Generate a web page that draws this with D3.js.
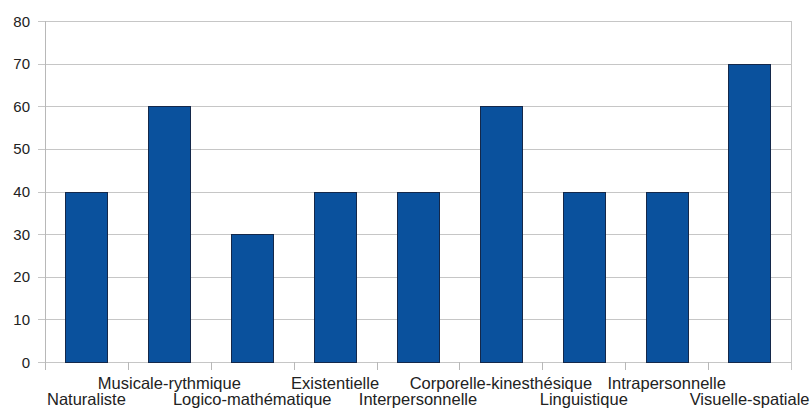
<!DOCTYPE html>
<html><head><meta charset="utf-8">
<script src="https://cdn.jsdelivr.net/npm/d3@7"></script>
<style>body{margin:0;background:#fff}svg{display:block}text{font-family:"Liberation Sans",Arial,sans-serif}</style>
</head><body><svg width="810" height="409"></svg>
<script>
const categories = ["Naturaliste","Musicale-rythmique","Logico-mathématique","Existentielle","Interpersonnelle","Corporelle-kinesthésique","Linguistique","Intrapersonnelle","Visuelle-spatiale"];
const values = [40,60,30,40,40,60,40,40,70];
const yTicks = [0,10,20,30,40,50,60,70,80];

const svg = d3.select("svg");
const mLeft = 45, mRight = 791, mTop = 21, mBottom = 362;
const x = d3.scaleBand().domain(categories).range([mLeft, mRight]).paddingInner(0.49).paddingOuter(0.245);
const xb = d3.scaleBand().domain(categories).range([mLeft, mRight]);
const y = d3.scaleLinear().domain([0, 80]).range([mBottom, mTop]);

// gridlines
svg.append("g").selectAll("line").data(yTicks).join("line")
  .attr("x1", mLeft - 7).attr("x2", mRight).attr("y1", d => Math.round(y(d)) + 0.5).attr("y2", d => Math.round(y(d)) + 0.5)
  .attr("stroke", "#c6c6c6").attr("stroke-width", 1);
// axes frame
svg.append("line").attr("x1", mLeft + 0.5).attr("x2", mLeft + 0.5).attr("y1", mTop).attr("y2", mBottom + 8)
  .attr("stroke", "#b8b8b8");
svg.append("line").attr("x1", mRight + 0.5).attr("x2", mRight + 0.5).attr("y1", mTop).attr("y2", mBottom + 8)
  .attr("stroke", "#c6c6c6");
// x ticks at band boundaries
const bounds = categories.map(c => xb(c)).concat([mRight]);
svg.append("g").selectAll("line").data(bounds.slice(1, -1)).join("line")
  .attr("x1", d => Math.round(d) + 0.5).attr("x2", d => Math.round(d) + 0.5).attr("y1", mBottom).attr("y2", mBottom + 8)
  .attr("stroke", "#b8b8b8");

// y labels
svg.append("g").selectAll("text").data(yTicks).join("text")
  .attr("x", 30).attr("y", d => y(d) + 5.5).attr("text-anchor", "end")
  .attr("font-size", 15).attr("fill", "#222").text(d => d);

// bars
svg.append("g").selectAll("rect").data(values).join("rect")
  .attr("x", (d, i) => Math.round(x(categories[i])) + 0.5).attr("width", Math.round(x.bandwidth()))
  .attr("y", d => Math.round(y(d)) + 0.5).attr("height", d => Math.round(y(0)) - Math.round(y(d)))
  .attr("fill", "#0a519d").attr("stroke", "#14284a").attr("stroke-width", 1);

// x labels staggered
svg.append("g").selectAll("text").data(categories).join("text")
  .attr("x", d => xb(d) + xb.bandwidth() / 2)
  .attr("y", (d, i) => i % 2 ? 389 : 405)
  .attr("text-anchor", "middle").attr("font-size", 16.5).attr("fill", "#222").text(d => d);
</script></body></html>
